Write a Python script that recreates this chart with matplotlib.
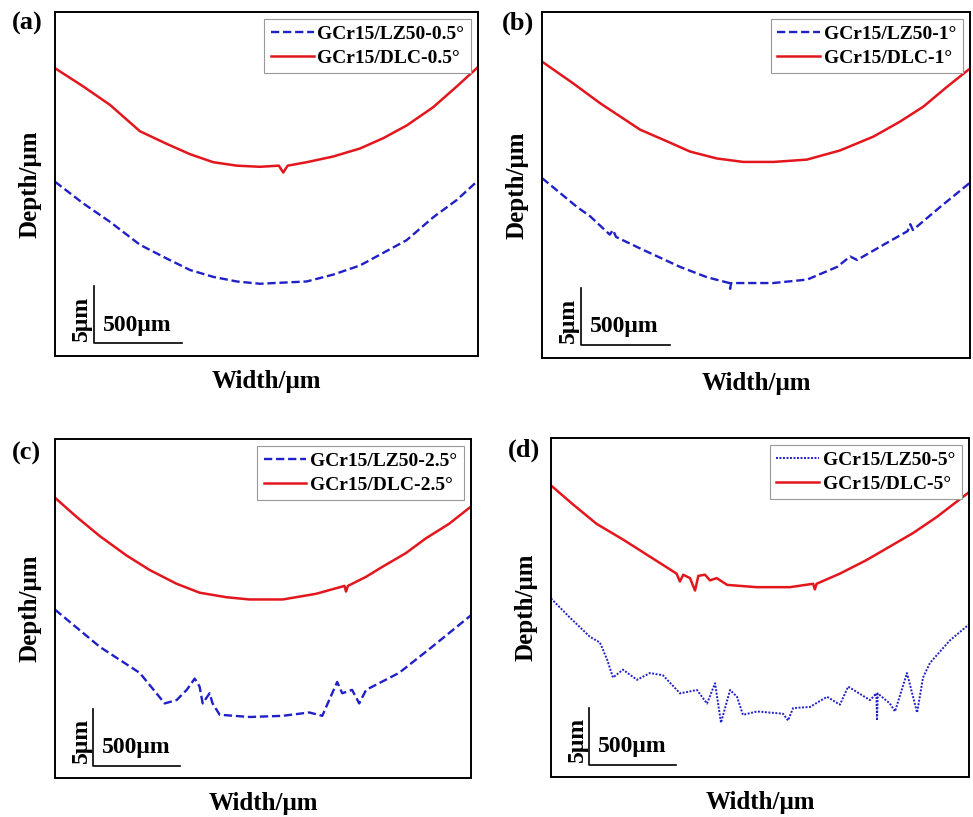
import numpy as np
import matplotlib.pyplot as plt

plt.rcParams['font.family'] = ['Liberation Serif', 'DejaVu Serif']
plt.rcParams['font.weight'] = 'bold'

# profile data (width in um, height in um)
a_red_x = [0, 161, 312, 482, 634, 766, 898, 1031, 1163, 1270, 1295, 1320, 1428, 1579, 1731, 1863,
           1995, 2146, 2279, 2400]
a_red_y = [25.1, 23.5, 21.9, 19.6, 18.5, 17.6, 16.9, 16.6, 16.5, 16.6, 16.0, 16.6, 16.9, 17.4, 18.1, 19.0,
           20.1, 21.7, 23.5, 25.2]
a_blue_x = [0, 161, 312, 482, 634, 766, 898, 1031, 1163, 1295, 1428, 1579, 1731, 1863, 1995, 2146,
            2279, 2400]
a_blue_y = [15.2, 13.3, 11.7, 9.7, 8.5, 7.5, 6.9, 6.5, 6.3, 6.4, 6.5, 7.1, 7.9, 9.0, 10.1, 12.1,
            13.6, 15.3]

b_red_x = [0, 176, 325, 550, 699, 830, 980, 1129, 1298, 1485, 1672, 1859, 2008, 2139, 2270, 2400]
b_red_y = [25.7, 23.8, 22.1, 19.8, 18.8, 17.9, 17.3, 17.0, 17.0, 17.2, 18.0, 19.2, 20.5, 21.8, 23.5, 25.1]
b_blue_x = [0, 196, 269, 380, 398, 415, 550, 774, 926, 1050, 1055, 1060, 1296, 1487, 1655, 1728, 1767,
            1913, 2050, 2065, 2080, 2233, 2400]
b_blue_y = [15.6, 13.1, 12.3, 10.7, 11.1, 10.5, 9.5, 7.9, 7.0, 6.5, 6.0, 6.5, 6.5, 6.8, 7.9, 8.8, 8.5,
            9.8, 11.0, 11.6, 11.1, 13.1, 15.2]

c_red_x = [0, 125, 259, 412, 547, 700, 834, 988, 1122, 1314, 1506, 1670, 1679, 1690, 1794, 1890,
           2024, 2139, 2274, 2398]
c_red_y = [24.8, 23.1, 21.4, 19.7, 18.4, 17.2, 16.4, 16.0, 15.8, 15.8, 16.3, 17.0, 16.5, 17.0, 17.8, 18.7,
           19.9, 21.2, 22.5, 24.0]
c_blue_x = [0, 259, 489, 633, 702, 760, 806, 834, 852, 892, 909, 950, 1122, 1312, 1467, 1542,
            1582, 1628, 1657, 1714, 1755, 1795, 1985, 2175, 2400]
c_blue_y = [14.9, 11.6, 9.3, 6.6, 6.9, 7.8, 8.8, 8.1, 6.6, 7.5, 6.6, 5.6, 5.4, 5.5, 5.8, 5.5,
            6.9, 8.5, 7.5, 7.8, 6.6, 7.8, 9.3, 11.6, 14.4]

d_red_x = [0, 128, 262, 415, 568, 721, 740, 759, 798, 827, 846, 884, 913, 951, 1012, 1180, 1372,
           1505, 1515, 1525, 1659, 1812, 1946, 2080, 2214, 2400]
d_red_y = [25.8, 24.1, 22.4, 21.0, 19.5, 18.0, 17.3, 17.9, 17.6, 16.5, 17.8, 17.9, 17.4, 17.6, 17.0, 16.8, 16.8,
           17.1, 16.6, 17.1, 18.0, 19.2, 20.4, 21.6, 23.0, 25.2]
d_blue_x = [0, 109, 224, 281, 322, 356, 413, 494, 568, 643, 741, 838, 896, 942, 976, 1028, 1068,
            1102, 1183, 1332, 1361, 1390, 1487, 1585, 1659, 1706, 1832, 1868, 1872, 1876, 1946, 1975,
            2044, 2102, 2136, 2176, 2291, 2400]
d_blue_y = [15.8, 14.1, 12.4, 11.9, 10.4, 8.8, 9.5, 8.6, 9.2, 9.0, 7.4, 7.7, 6.5, 8.3, 4.8, 7.7, 7.1,
            5.5, 5.8, 5.6, 5.0, 6.1, 6.2, 7.1, 6.4, 8.0, 6.8, 7.4, 5.0, 7.4, 6.5, 5.8,
            9.2, 5.7, 8.8, 10.1, 12.1, 13.5]

angles = ['0.5', '1', '2.5', '5']
panel_labels = ['(a)', '(b)', '(c)', '(d)']

panels = [
    (a_red_x, a_red_y, a_blue_x, a_blue_y),
    (b_red_x, b_red_y, b_blue_x, b_blue_y),
    (c_red_x, c_red_y, c_blue_x, c_blue_y),
    (d_red_x, d_red_y, d_blue_x, d_blue_y),
]

W, H = 973, 817
# axes boxes in pixels: left, top, right, bottom
boxes = [(55, 12, 478, 356), (542, 12, 970, 358), (55, 439, 471, 778), (551, 438, 969, 777)]
label_pos = [(12, 23), (502, 23), (12, 453), (508, 450)]

RED = '#e3161d'
BLUE = '#2020c8'

fig = plt.figure(figsize=(W / 100, H / 100), dpi=100)

for i, (rx, ry, bx, by) in enumerate(panels):
    l, t, r, b = boxes[i]
    ax = fig.add_axes([l / W, 1 - b / H, (r - l) / W, (b - t) / H])
    if i == 3:
        ax.plot(bx, by, color=BLUE, lw=1.4, ls=(0, (1, 0.8)), label='GCr15/LZ50-%s°' % angles[i])
    else:
        ax.plot(bx, by, color=BLUE, lw=1.7, ls=(0, (3.5, 1.6)), label='GCr15/LZ50-%s°' % angles[i])
    ax.plot(rx, ry, color=RED, lw=1.8, label='GCr15/DLC-%s°' % angles[i])
    ax.set_xlim(0, 2400)
    ax.set_ylim(0, 30)
    ax.set_xticks([])
    ax.set_yticks([])
    for s in ax.spines.values():
        s.set_linewidth(1.4)
    ax.set_xlabel('Width/μm', fontsize=18, fontweight='bold', labelpad=10)
    ax.set_ylabel('Depth/μm', fontsize=18, fontweight='bold', labelpad=10)

    leg = ax.legend(loc='upper right', prop={'size': 14, 'weight': 'bold'}, frameon=True,
                    fancybox=False, edgecolor='#999999', framealpha=1, borderaxespad=0.35,
                    handlelength=2.2, handletextpad=0.2, borderpad=0.35, labelspacing=0.3)
    leg.get_frame().set_linewidth(0.8)

    # scale bar: 500 um by 5 um
    x0, y0 = 220, 1.1
    ax.plot([x0, x0, x0 + 500], [y0 + 5, y0, y0], color='black', lw=1.2)
    ax.text(x0 - 70, y0 + 2.2, '5μm', rotation=90, ha='center', va='center',
            fontsize=17, fontweight='bold')
    ax.text(x0 + 50, y0 + 1.6, '500μm', ha='left', va='center', fontsize=17, fontweight='bold')

    lx, ly = label_pos[i]
    fig.text(lx / W, 1 - ly / H, panel_labels[i], ha='left', va='center',
             fontsize=19, fontweight='bold')

fig.savefig('out.png', dpi=100)
